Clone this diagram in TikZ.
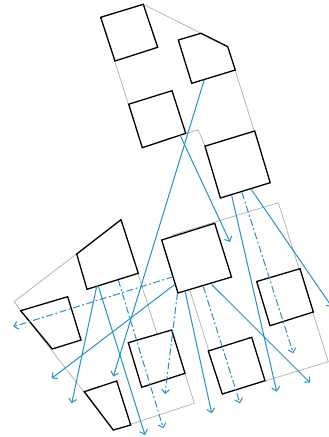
\documentclass[tikz,border=0pt]{standalone}
\usetikzlibrary{arrows.meta}
\definecolor{arrowblue}{RGB}{35,145,205}
\definecolor{framegrey}{RGB}{175,175,175}
\tikzset{
  frame/.style={draw=framegrey, line width=0.7pt, line join=miter},
  block/.style={draw=black, fill=white, line width=1.3pt, line join=miter},
  flow/.style={draw=arrowblue, line width=1pt, -{Straight Barb[length=4pt,width=8pt]}},
  flowdash/.style={flow, dash pattern=on 7pt off 2.5pt on 2pt off 2.5pt}
}
\begin{document}
\begin{tikzpicture}[x=1pt,y=-1pt]
\useasboundingbox (0,0) rectangle (329,437);

% grey frames
\draw[frame] (100.7,17.3) -- (143.3,4.3) -- (227.7,46.7) -- (254.3,131) -- (205,146) -- (198.3,130) -- (185.7,133.3) -- (142.3,147.7) -- cycle;
\draw[frame] (172.6,235) -- (278.3,202.7) -- (328.3,361.7) -- (222.3,394) -- cycle;
\draw[frame] (14,301.7) -- (121,220) -- (157,334) -- (185,373.3) -- (194.3,403.3) -- (113.3,430) -- cycle;

% black shapes
\draw[block] (100.7,17.3) -- (143.3,4.3) -- (157.7,47.3) -- (115,61) -- cycle;
\draw[block] (178.3,40) -- (201,33.3) -- (227.7,46.7) -- (235.3,70) -- (191.7,83.3) -- cycle;
\draw[block] (128.7,104.2) -- (172,90.7) -- (185.7,133.3) -- (142.3,147.7) -- cycle;
\draw[block] (205,146.2) -- (254.7,131) -- (270.2,182.7) -- (220.4,198) -- cycle;
\draw[block] (161.7,240) -- (214.7,223.3) -- (231.5,277) -- (178,293) -- cycle;
\draw[block] (76.7,254) -- (121,219.7) -- (138.3,273.3) -- (87,289.3) -- cycle;
\draw[block] (20.7,310.7) -- (67.7,296.7) -- (81,340) -- (52.3,349) -- cycle;
\draw[block] (128.3,342.7) -- (171.7,330) -- (185,373.3) -- (141.7,387.3) -- cycle;
\draw[block] (84.3,391.7) -- (116.7,381) -- (130.7,425) -- (113.3,430) -- cycle;
\draw[block] (208.3,351) -- (251.7,337.3) -- (265,380.7) -- (222.3,394) -- cycle;
\draw[block] (256.7,281.5) -- (300,268.7) -- (313.3,312) -- (270,325.7) -- cycle;

% arrow end points
\coordinate (s1a) at (204.3,79.8);  \coordinate (s1b) at (113.3,376.5);
\coordinate (s2a) at (180,135);     \coordinate (s2b) at (230,242);
\coordinate (s3a) at (231.7,195.5); \coordinate (s3b) at (276.7,391.7);
\coordinate (s4a) at (251,189);     \coordinate (s4b) at (332,307);
\coordinate (s5a) at (185,291);     \coordinate (s5b) at (211.7,413.3);
\coordinate (s6a) at (211.7,284.5); \coordinate (s6b) at (310,382.7);
\coordinate (s7a) at (175,284.3);   \coordinate (s7b) at (51.7,378.3);
\coordinate (s8a) at (96.7,286.5);  \coordinate (s8b) at (71.7,403.3);
\coordinate (s9a) at (98.3,286.2);  \coordinate (s9b) at (145,435);
\coordinate (d1a) at (173.3,276.7); \coordinate (d1b) at (13.3,326.7);
\coordinate (d2a) at (177.5,293);   \coordinate (d2b) at (165,394);
\coordinate (d3a) at (118.3,280);   \coordinate (d3b) at (163.3,428.3);
\coordinate (d4a) at (203.3,286.5); \coordinate (d4b) at (240,403.3);
\coordinate (d5a) at (242,192.5);   \coordinate (d5b) at (293.3,353.3);

% blue arrows
\foreach \n in {s1,s2,s3,s4,s5,s6,s7,s8,s9}
  \draw[flow] (\n a) -- (\n b);
\foreach \n in {d1,d2,d3,d4,d5}
  \draw[flowdash] (\n a) -- (\n b);
\end{tikzpicture}
\end{document}
